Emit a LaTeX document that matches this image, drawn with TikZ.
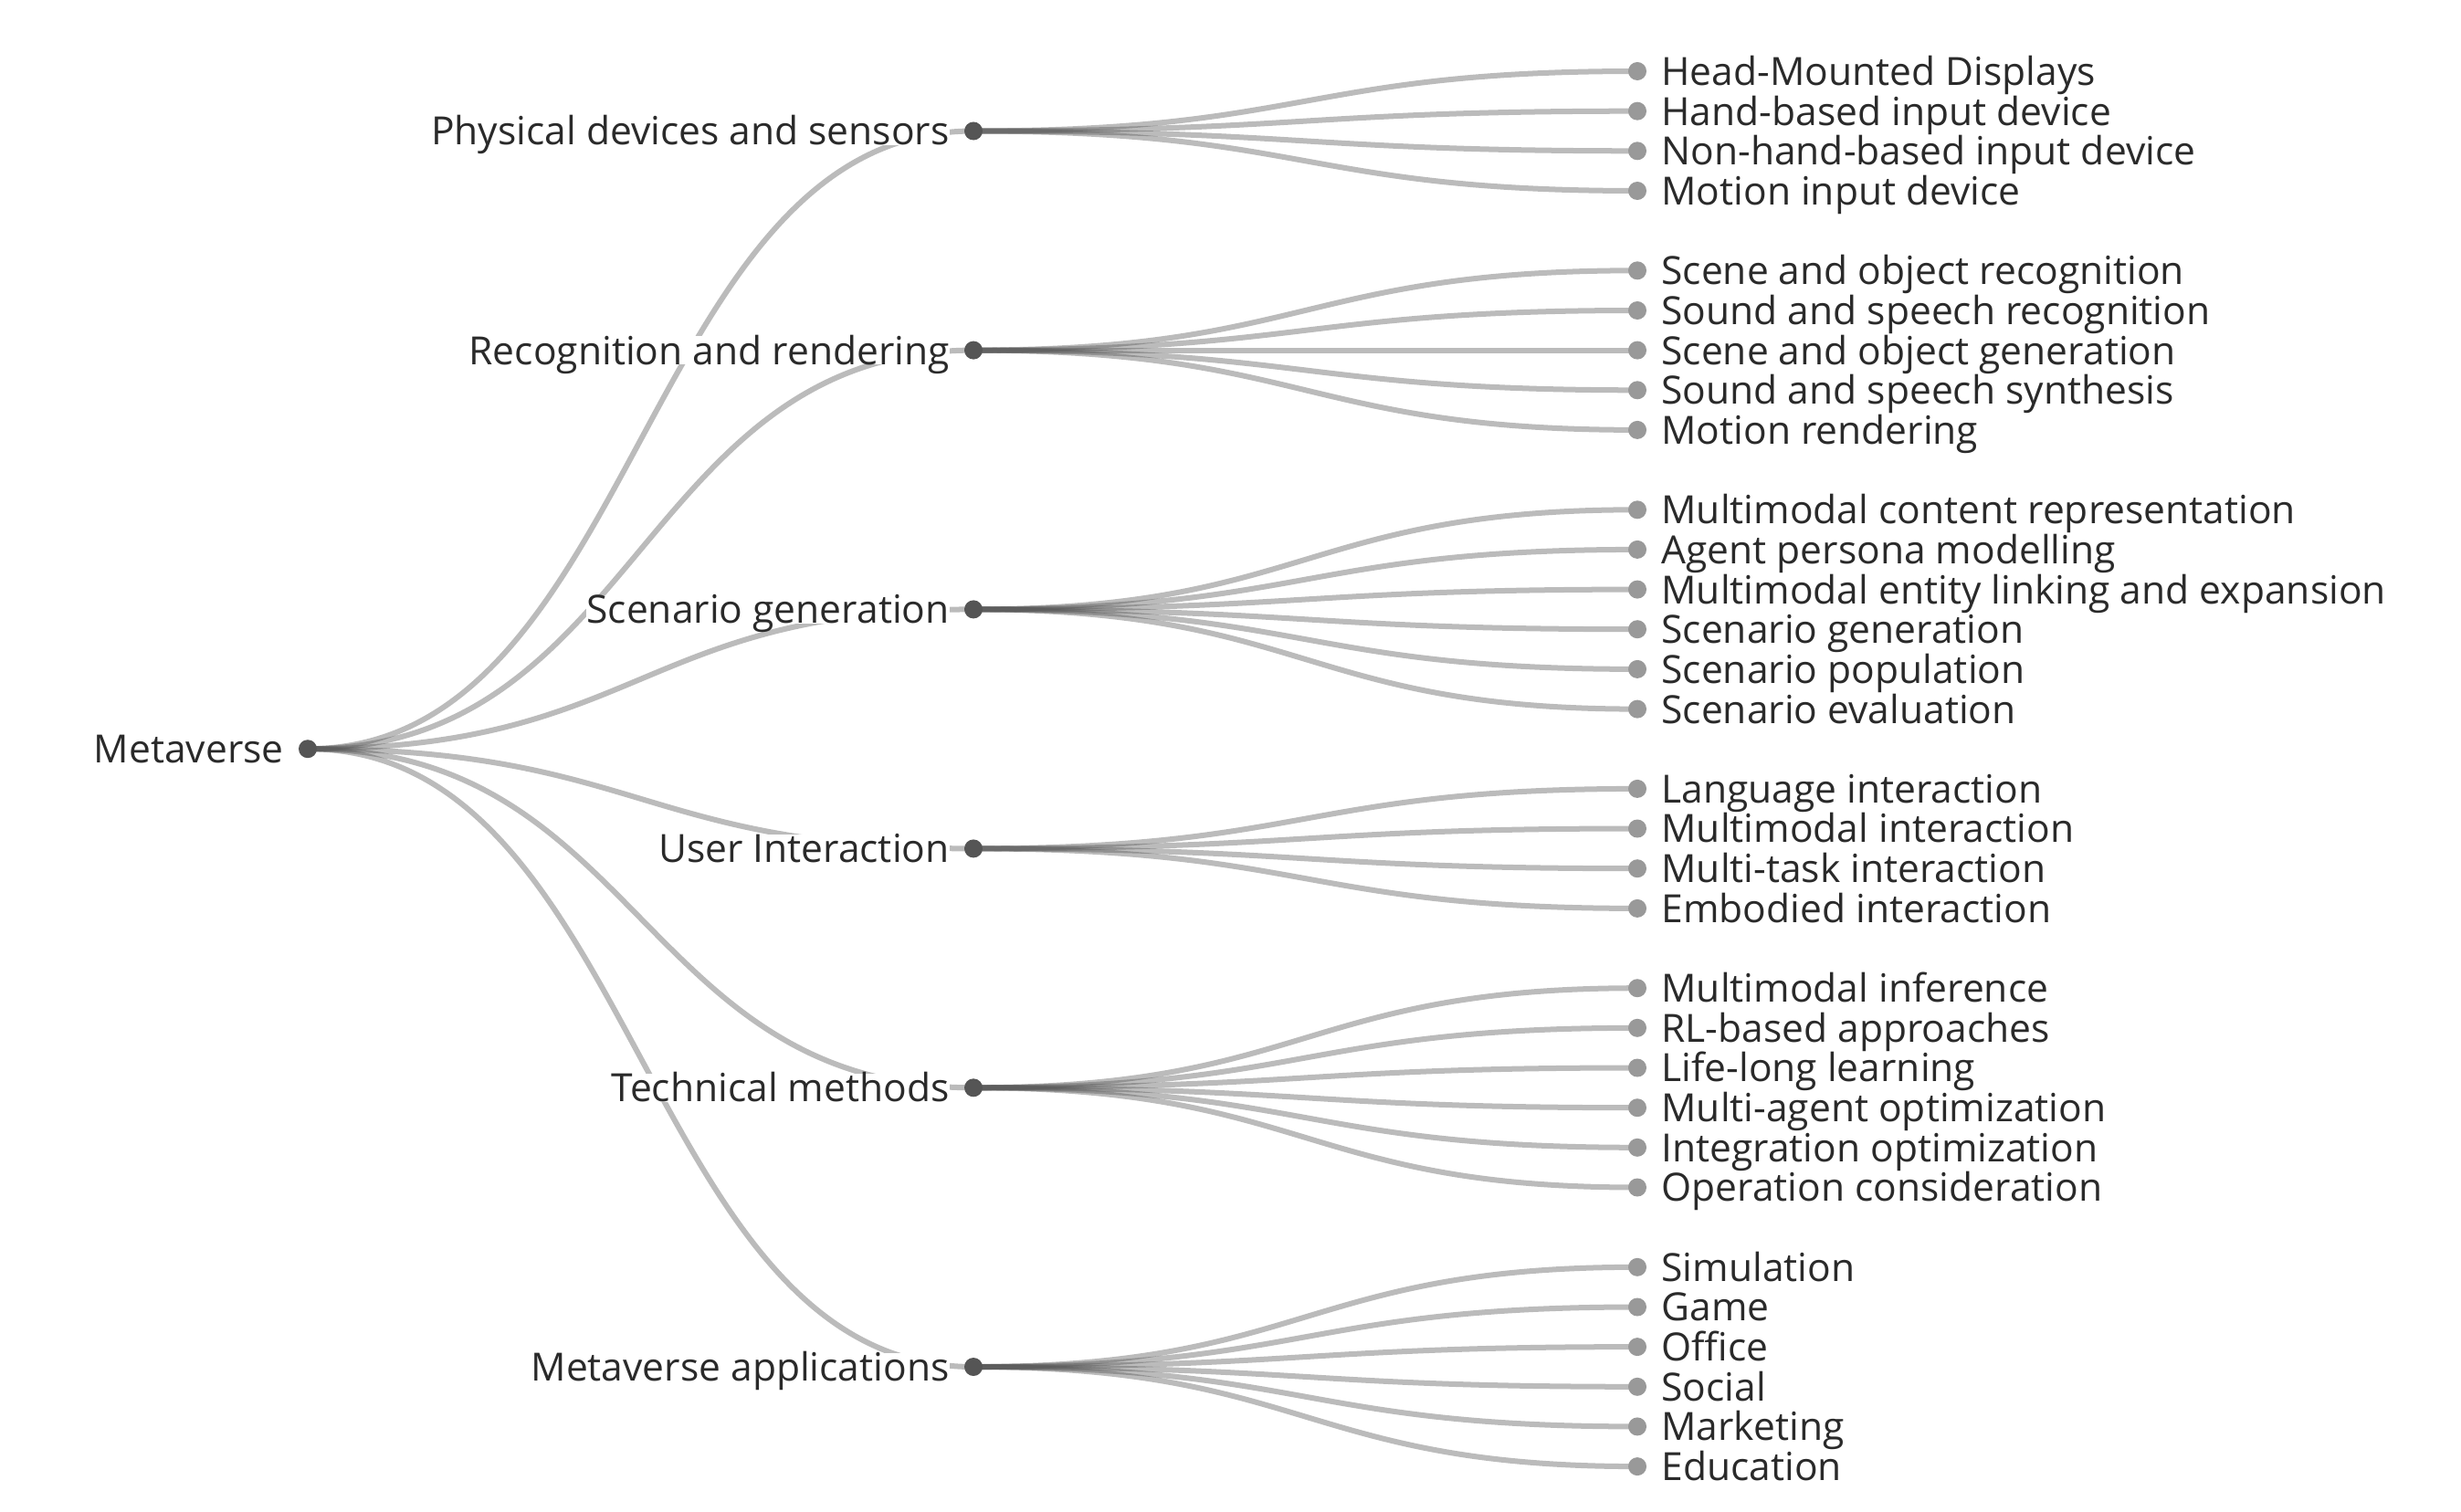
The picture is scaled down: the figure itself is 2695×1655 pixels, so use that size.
\documentclass[tikz,border=0pt]{standalone}
\usepackage{fontspec}
\setmainfont{Open Sans}
\usetikzlibrary{backgrounds}
\definecolor{linkgray}{HTML}{555555}
\definecolor{leafgray}{HTML}{999999}
\definecolor{labeltext}{HTML}{2a2a2a}
\tikzset{
  treetext/.style={inner sep=0pt,text height=8.8pt,text depth=0pt,text=labeltext,font=\fontsize{12.1pt}{14pt}\selectfont},
  innerdot/.style={circle,fill=linkgray,minimum size=0.2cm,inner sep=0pt,label={[treetext,fill=white,xshift=-0.15cm]left:#1}},
  leafdot/.style={circle,fill=leafgray,minimum size=0.2cm,inner sep=0pt,label={[treetext,xshift=0.15cm]right:#1}},
  link/.style={draw=linkgray,draw opacity=0.4,line width=0.06cm,out=0,in=180,out distance=3.64cm,in distance=3.64cm}
}
\begin{document}
\begin{tikzpicture}[x=0.01cm,y=-0.01cm]
\useasboundingbox (0,0) rectangle (2695,1655);
% root and branches
\node[innerdot={Metaverse}] (meta) at (337,820.2) {};
\node[innerdot={Physical devices and sensors}] (dev) at (1066,143.5) {};
\node[innerdot={Recognition and rendering}] (rec) at (1066,383.6) {};
\node[innerdot={Scenario generation}] (scen) at (1066,667.4) {};
\node[innerdot={User Interaction}] (inter) at (1066,929.4) {};
\node[innerdot={Technical methods}] (tech) at (1066,1191.3) {};
\node[innerdot={Metaverse applications}] (app) at (1066,1497) {};
% leaves
\node[leafdot={Head-Mounted Displays}] (dev1) at (1793,78) {};
\node[leafdot={Hand-based input device}] (dev2) at (1793,121.7) {};
\node[leafdot={Non-hand-based input device}] (dev3) at (1793,165.3) {};
\node[leafdot={Motion input device}] (dev4) at (1793,209) {};
\node[leafdot={Scene and object recognition}] (rec1) at (1793,296.3) {};
\node[leafdot={Sound and speech recognition}] (rec2) at (1793,340) {};
\node[leafdot={Scene and object generation}] (rec3) at (1793,383.6) {};
\node[leafdot={Sound and speech synthesis}] (rec4) at (1793,427.3) {};
\node[leafdot={Motion rendering}] (rec5) at (1793,470.9) {};
\node[leafdot={Multimodal content representation}] (scen1) at (1793,558.3) {};
\node[leafdot={Agent persona modelling}] (scen2) at (1793,601.9) {};
\node[leafdot={Multimodal entity linking and expansion}] (scen3) at (1793,645.6) {};
\node[leafdot={Scenario generation}] (scen4) at (1793,689.2) {};
\node[leafdot={Scenario population}] (scen5) at (1793,732.9) {};
\node[leafdot={Scenario evaluation}] (scen6) at (1793,776.6) {};
\node[leafdot={Language interaction}] (inter1) at (1793,863.9) {};
\node[leafdot={Multimodal interaction}] (inter2) at (1793,907.5) {};
\node[leafdot={Multi-task interaction}] (inter3) at (1793,951.2) {};
\node[leafdot={Embodied interaction}] (inter4) at (1793,994.9) {};
\node[leafdot={Multimodal inference}] (tech1) at (1793,1082.2) {};
\node[leafdot={RL-based approaches}] (tech2) at (1793,1125.8) {};
\node[leafdot={Life-long learning}] (tech3) at (1793,1169.5) {};
\node[leafdot={Multi-agent optimization}] (tech4) at (1793,1213.2) {};
\node[leafdot={Integration optimization}] (tech5) at (1793,1256.8) {};
\node[leafdot={Operation consideration}] (tech6) at (1793,1300.5) {};
\node[leafdot={Simulation}] (app1) at (1793,1387.8) {};
\node[leafdot={Game}] (app2) at (1793,1431.5) {};
\node[leafdot={Office}] (app3) at (1793,1475.1) {};
\node[leafdot={Social}] (app4) at (1793,1518.8) {};
\node[leafdot={Marketing}] (app5) at (1793,1562.4) {};
\node[leafdot={Education}] (app6) at (1793,1606.1) {};
% links
\begin{scope}[on background layer]
\draw[link] (meta.center) to (dev.center);
\draw[link] (meta.center) to (rec.center);
\draw[link] (meta.center) to (scen.center);
\draw[link] (meta.center) to (inter.center);
\draw[link] (meta.center) to (tech.center);
\draw[link] (meta.center) to (app.center);
\draw[link] (dev.center) to (dev1.center);
\draw[link] (dev.center) to (dev2.center);
\draw[link] (dev.center) to (dev3.center);
\draw[link] (dev.center) to (dev4.center);
\draw[link] (rec.center) to (rec1.center);
\draw[link] (rec.center) to (rec2.center);
\draw[link] (rec.center) to (rec3.center);
\draw[link] (rec.center) to (rec4.center);
\draw[link] (rec.center) to (rec5.center);
\draw[link] (scen.center) to (scen1.center);
\draw[link] (scen.center) to (scen2.center);
\draw[link] (scen.center) to (scen3.center);
\draw[link] (scen.center) to (scen4.center);
\draw[link] (scen.center) to (scen5.center);
\draw[link] (scen.center) to (scen6.center);
\draw[link] (inter.center) to (inter1.center);
\draw[link] (inter.center) to (inter2.center);
\draw[link] (inter.center) to (inter3.center);
\draw[link] (inter.center) to (inter4.center);
\draw[link] (tech.center) to (tech1.center);
\draw[link] (tech.center) to (tech2.center);
\draw[link] (tech.center) to (tech3.center);
\draw[link] (tech.center) to (tech4.center);
\draw[link] (tech.center) to (tech5.center);
\draw[link] (tech.center) to (tech6.center);
\draw[link] (app.center) to (app1.center);
\draw[link] (app.center) to (app2.center);
\draw[link] (app.center) to (app3.center);
\draw[link] (app.center) to (app4.center);
\draw[link] (app.center) to (app5.center);
\draw[link] (app.center) to (app6.center);
\end{scope}
\end{tikzpicture}
\end{document}
